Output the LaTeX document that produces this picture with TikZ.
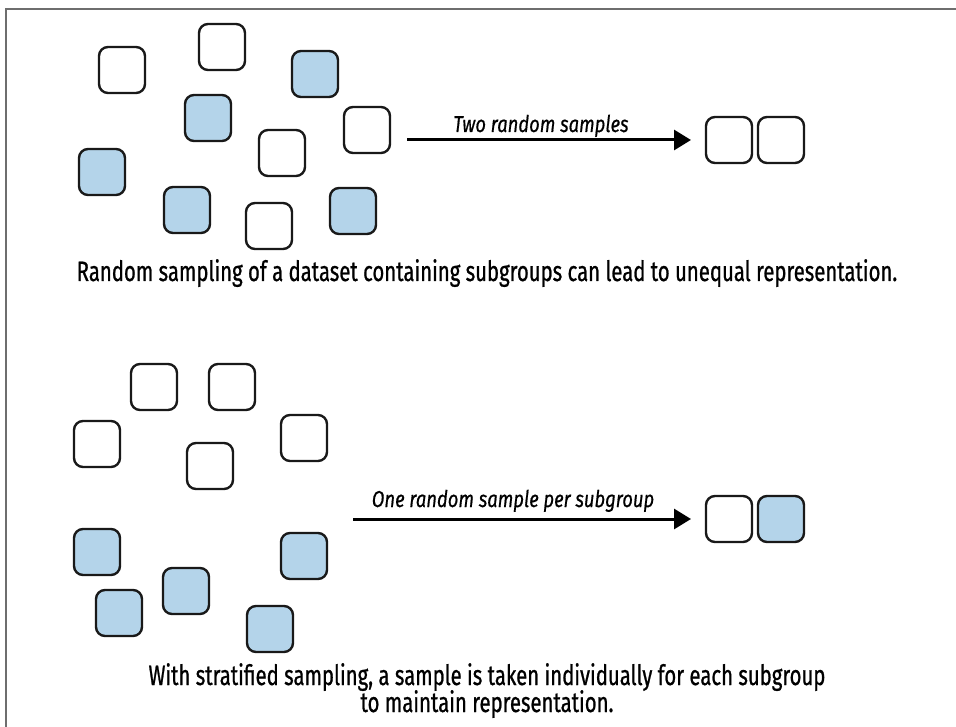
\documentclass[tikz,border=0pt]{standalone}
\usepackage{fontspec}
\setmainfont{Fira Sans}[FakeStretch=0.726, FakeBold=0.8]
\newfontfamily\labelfont{Fira Sans}[FakeStretch=0.80, FakeBold=0.6]
\usetikzlibrary{arrows.meta}
\definecolor{itemblue}{HTML}{B4D4EA}
\definecolor{framegray}{HTML}{6E6E6E}
\tikzset{
  item/.style={draw=black!90, line width=2.4pt, rounded corners=9pt,
    minimum width=46pt, minimum height=46pt, inner sep=0pt, fill=white},
  blueitem/.style={item, fill=itemblue},
  flow/.style={line width=3pt, -{Triangle[length=17pt,width=20pt]}},
  flowlabel/.style={font=\labelfont\itshape\fontsize{23}{27}\selectfont, anchor=base},
  caption/.style={font=\fontsize{28}{28}\selectfont, anchor=base, align=center}
}
\begin{document}
\begin{tikzpicture}[x=1pt, y=-1pt]
\useasboundingbox (0,0) rectangle (956,727);
% frame
\draw[framegray, line width=2pt] (6,727) -- (6,9) -- (956,9);

% ---- random sampling: the whole dataset ----
\node[item]     (t1)  at (122, 70) {};
\node[item]     (t2)  at (222, 47) {};
\node[blueitem] (t3)  at (315, 74) {};
\node[blueitem] (t4)  at (208,118) {};
\node[item]     (t5)  at (367,130) {};
\node[item]     (t6)  at (282,153) {};
\node[blueitem] (t7)  at (102,172) {};
\node[blueitem] (t8)  at (187,210) {};
\node[item]     (t9)  at (269,226) {};
\node[blueitem] (t10) at (353,211) {};

\coordinate (a1s) at (407,140);
\coordinate (a1e) at (691,140);
\draw[flow] (a1s) -- (a1e);
\node[flowlabel] (l1) at (541,132) {Two random samples};

\node[item] (r1) at (729,140) {};
\node[item] (r2) at (781,140) {};

\node[caption] (c1) at (487,281)
  {Random sampling of a dataset containing subgroups can lead to unequal representation.};

% ---- stratified sampling ----
\node[item]     (s1)  at (154,387) {};
\node[item]     (s2)  at (232,387) {};
\node[item]     (s3)  at ( 97,444) {};
\node[item]     (s4)  at (210,466) {};
\node[item]     (s5)  at (304,438) {};
\node[blueitem] (s6)  at ( 97,552) {};
\node[blueitem] (s7)  at (304,556) {};
\node[blueitem] (s8)  at (186,591) {};
\node[blueitem] (s9)  at (119,613) {};
\node[blueitem] (s10) at (270,629) {};

\coordinate (a2s) at (353,519);
\coordinate (a2e) at (691,519);
\draw[flow] (a2s) -- (a2e);
\node[flowlabel] (l2) at (513,507) {One random sample per subgroup};

\node[item]     (q1) at (729,519) {};
\node[blueitem] (q2) at (781,519) {};

\node[caption] (c2) at (487,685)
  {With stratified sampling, a sample is taken individually for each subgroup};
\node[caption] (c3) at (487,712) {to maintain representation.};
\end{tikzpicture}
\end{document}
